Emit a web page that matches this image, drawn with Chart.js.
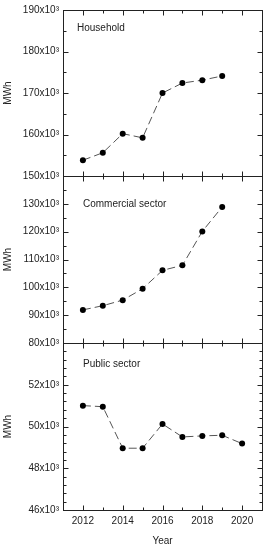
<!DOCTYPE html>
<html>
<head>
<meta charset="utf-8">
<script src="https://cdn.jsdelivr.net/npm/chart.js@4"></script>
<style>
html,body{margin:0;padding:0;background:#fff;}
#wrap{position:relative;width:271px;height:550px;}
canvas{position:absolute;left:0;top:0;}
</style>
</head>
<body>
<div id="wrap">
  <canvas id="c1" width="271" height="550"></canvas>
  <canvas id="c2" width="271" height="550"></canvas>
  <canvas id="c3" width="271" height="550"></canvas>
</div>
<script>
// data, in thousands of MWh
const years = [2012, 2013, 2014, 2015, 2016, 2017, 2018, 2019];
const yearsPublic = [2012, 2013, 2014, 2015, 2016, 2017, 2018, 2019, 2020];
const household = [153.8, 155.6, 160.2, 159.2, 170.0, 172.4, 173.1, 174.1];
const commercial = [91.9, 93.4, 95.4, 99.5, 106.1, 107.9, 120.1, 128.9];
const publicSector = [51.0, 50.95, 48.96, 48.96, 50.12, 49.5, 49.55, 49.58, 49.18];
const xTicks = [2011, 2012, 2013, 2014, 2015, 2016, 2017, 2018, 2019, 2020, 2021];

const INK = '#222';
const FONT = '"Liberation Sans", Arial, sans-serif';
const W = 271, H = 550;

const panels = [
  { id:'c1', label:'Household', xs:years, ys:household, min:150, max:190, major:10, minor:5, hideTop:false,
    top:10, bottom:176, tx:14, ty:18, last:false },
  { id:'c2', label:'Commercial sector', xs:years, ys:commercial, min:80, max:140, major:10, minor:5, hideTop:true,
    top:176, bottom:343, tx:20, ty:28, last:false },
  { id:'c3', label:'Public sector', xs:yearsPublic, ys:publicSector, min:46, max:54, major:2, minor:0.4, hideTop:true,
    top:343, bottom:510, tx:20, ty:21, last:true },
];

const near = (a, b) => Math.abs(a - b) < 1e-6;
const isMult = (v, step) => near(v / step, Math.round(v / step));

// frame, inward ticks on all four sides, panel caption
const framePlugin = {
  id: 'frame',
  afterDraw(chart, args, opts) {
    const {ctx, chartArea:a, scales:{x, y}} = chart;
    const L = Math.round(a.left) + 0.5, R = Math.round(a.right) + 0.5;
    const T = Math.round(a.top) + 0.5, B = Math.round(a.bottom) + 0.5;
    ctx.save();
    ctx.strokeStyle = INK;
    ctx.lineWidth = 1;
    ctx.strokeRect(L, T, R - L, B - T);
    ctx.beginPath();
    y.ticks.forEach(t => {
      const py = Math.round(y.getPixelForValue(t.value)) + 0.5;
      const len = isMult(t.value, opts.major) ? 5 : 3;
      ctx.moveTo(L, py); ctx.lineTo(L + len, py);
      ctx.moveTo(R, py); ctx.lineTo(R - len, py);
    });
    x.ticks.forEach(t => {
      const px = Math.round(x.getPixelForValue(t.value)) + 0.5;
      const len = t.value % 2 === 0 ? 5 : 3;
      ctx.moveTo(px, T); ctx.lineTo(px, T + len);
      ctx.moveTo(px, B); ctx.lineTo(px, B - len);
    });
    ctx.stroke();
    ctx.fillStyle = INK;
    ctx.font = '10px ' + FONT;
    ctx.textBaseline = 'middle';
    ctx.textAlign = 'left';
    ctx.fillText(opts.label, a.left + opts.tx, a.top + opts.ty);
    ctx.restore();
  }
};

panels.forEach(p => {
  const ctx = document.getElementById(p.id).getContext('2d');
  new Chart(ctx, {
    type: 'line',
    data: { datasets: [{
      data: p.xs.map((x, i) => ({x, y: p.ys[i]})),
      borderColor: '#555', borderWidth: 1, borderDash: [8, 4],
      pointRadius: 3, pointBackgroundColor: '#000', pointBorderWidth: 0,
      tension: 0, clip: false,
    }]},
    options: {
      responsive: false, animation: false, devicePixelRatio: 1,
      events: [],
      layout: { padding: { left: 0, right: W - 262, top: p.top, bottom: p.last ? 0 : H - p.bottom } },
      plugins: { legend: {display:false}, tooltip: {enabled:false},
        frame: { label: p.label, tx: p.tx, ty: p.ty, major: p.major } },
      scales: {
        x: {
          type: 'linear', min: 2011, max: 2021,
          afterBuildTicks: s => { s.ticks = xTicks.map(v => ({value: v})); },
          afterFit: s => { s.height = p.last ? H - p.bottom : 0; },
          grid: {display:false, drawTicks:false}, border: {display:false},
          ticks: { display: p.last, autoSkip: false, maxRotation: 0, padding: 5, color: INK,
            font: {size: 10, family: FONT},
            callback: v => v % 2 === 0 ? String(v) : '' },
          title: { display: p.last, text: 'Year', color: INK, font: {size: 10, family: FONT},
            padding: {top: 0, bottom: 3} },
        },
        y: {
          min: p.min, max: p.max,
          afterBuildTicks: s => {
            const n = Math.round((p.max - p.min) / p.minor);
            const t = [];
            for (let i = 0; i <= n; i++) t.push({value: +(p.min + i * p.minor).toFixed(3)});
            s.ticks = t;
          },
          afterFit: s => { s.width = 63; },
          grid: {display:false, drawTicks:false}, border: {display:false},
          ticks: { autoSkip: false, padding: 4, color: INK, font: {size: 10, family: FONT},
            callback: v => (isMult(v, p.major) && !(p.hideTop && near(v, p.max))) ? v + 'x10³' : '' },
          title: { display: true, text: 'MWh', color: INK, font: {size: 10, family: FONT},
            padding: {top: 2, bottom: 0} },
        }
      }
    },
    plugins: [framePlugin]
  });
});
</script>
</body>
</html>
